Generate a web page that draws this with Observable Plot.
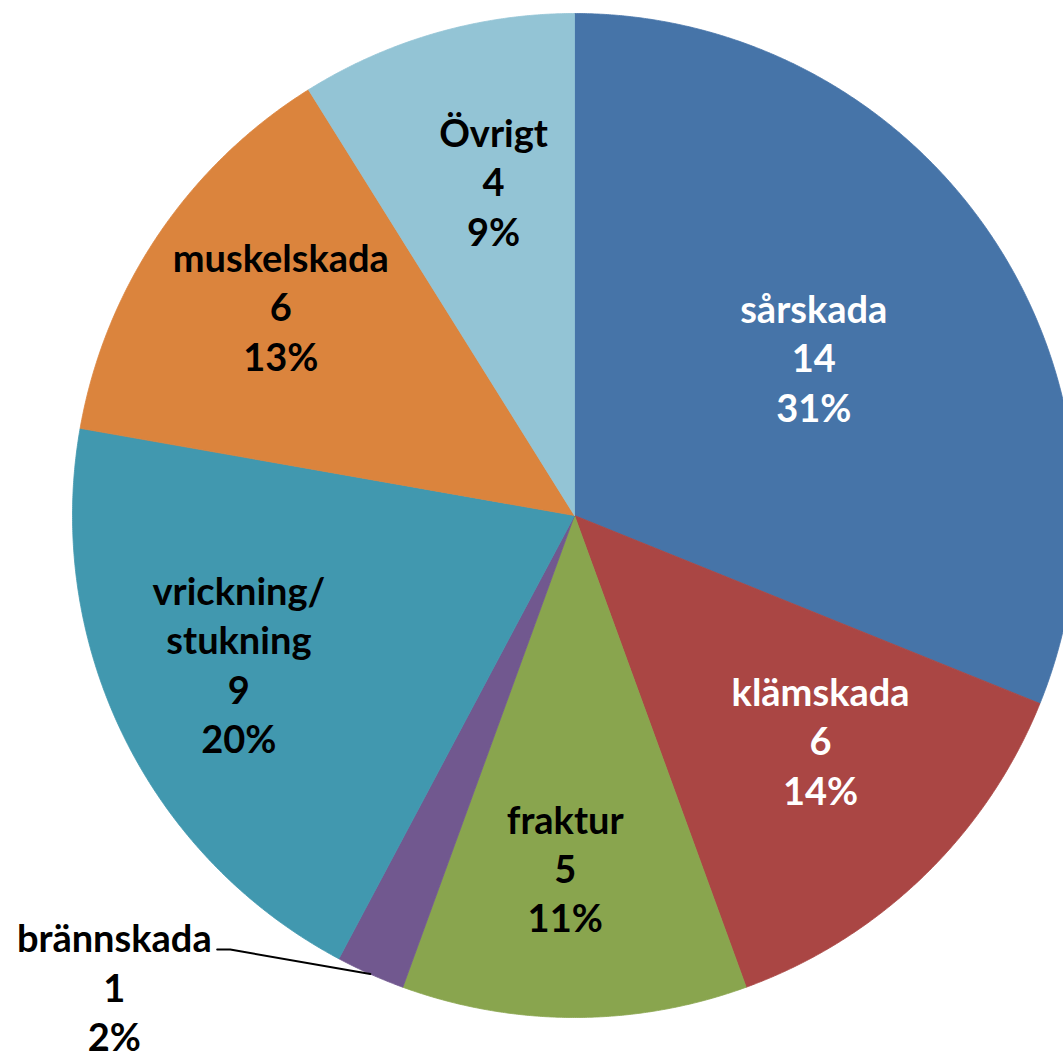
<!DOCTYPE html>
<html>
<head>
<meta charset="utf-8">
<script src="https://cdn.jsdelivr.net/npm/d3@7"></script>
<script src="https://cdn.jsdelivr.net/npm/@observablehq/plot@0.6"></script>
<style>
  html, body { margin: 0; padding: 0; background: white; overflow: hidden; }
  #chart svg { overflow: hidden; display: block; }
</style>
</head>
<body>
<div id="chart"></div>
<script>
// ---- data ----
const categories = ["sårskada", "klämskada", "fraktur", "brännskada", "vrickning/stukning", "muskelskada", "Övrigt"];
const values = [14, 6, 5, 1, 9, 6, 4];
const percentLabels = ["31%", "14%", "11%", "2%", "20%", "13%", "9%"];

// ---- style ----
const colors = ["#4674A8", "#AA4644", "#89A54E", "#71588F", "#4198AF", "#DB843D", "#93C4D5"];
const textColors = ["white", "white", "black", "black", "black", "black", "black"];

// ---- layout (radius units; label polar placement relative to slice mid-angle) ----
const W = 1063, H = 1052;
const R = 502, CX = 574, CY = 515;
const labelRadius = [0.569, 0.667, 0.707, 1.315, 0.733, 0.716, 0.681];
const labelAngleShift = [0.9, -3.3, 1.5, 20.2, 1.8, 1.2, 2.3];
const outsideLabel = [false, false, false, true, false, false, false];
const leader = {kneeDx: 0.231, endDx: 0.205, dy: 0.078};
const labelLift = 0.006;
const fontSize = 38;
const lineHeight = 1.3;

const total = d3.sum(values);
const rad = (deg) => deg * Math.PI / 180;
const polar = (r, deg) => [r * Math.sin(rad(deg)), r * Math.cos(rad(deg))];

// slice polygons from cumulative angles
const slicePts = [];
const labels = [];
const leaderPts = [];
let acc = 0;
values.forEach((v, i) => {
  const a0 = acc / total * 360;
  const a1 = (acc + v) / total * 360;
  acc += v;
  const name = categories[i];
  slicePts.push({name, x: 0, y: 0});
  const n = Math.max(2, Math.ceil((a1 - a0) / 0.25));
  for (let k = 0; k <= n; k++) {
    const [x, y] = polar(1, a0 + (a1 - a0) * k / n);
    slicePts.push({name, x, y});
  }
  slicePts.push({name, x: 0, y: 0});
  const mid = (a0 + a1) / 2;
  const [lx, ly] = polar(labelRadius[i], mid + labelAngleShift[i]);
  labels.push({
    name, x: lx, y: ly + labelLift, fill: textColors[i],
    text: name.replace("/", "/\n") + "\n" + values[i] + "\n" + percentLabels[i]
  });
  if (outsideLabel[i]) {
    const [ex, ey] = polar(1, mid);
    leaderPts.push({x: ex, y: ey});
    leaderPts.push({x: lx + leader.kneeDx, y: ly + leader.dy});
    leaderPts.push({x: lx + leader.endDx, y: ly + leader.dy});
  }
});

const chart = Plot.plot({
  width: W,
  height: H,
  margin: 0,
  x: {domain: [-CX / R, (W - CX) / R], axis: null},
  y: {domain: [-(H - CY) / R, CY / R], axis: null},
  color: {domain: categories, range: colors},
  style: {fontFamily: "Lato, 'Open Sans', sans-serif", background: "white"},
  marks: [
    Plot.line(slicePts, {x: "x", y: "y", z: "name", fill: "name", stroke: "name", strokeWidth: 0.8, clip: true}),
    Plot.line(leaderPts, {x: "x", y: "y", stroke: "black", strokeWidth: 2}),
    Plot.text(labels, {
      x: "x", y: "y", text: "text", fill: "fill",
      fontSize, fontWeight: "bold", lineHeight,
      textAnchor: "middle", lineAnchor: "middle"
    })
  ]
});
document.getElementById("chart").appendChild(chart);
</script>
</body>
</html>
